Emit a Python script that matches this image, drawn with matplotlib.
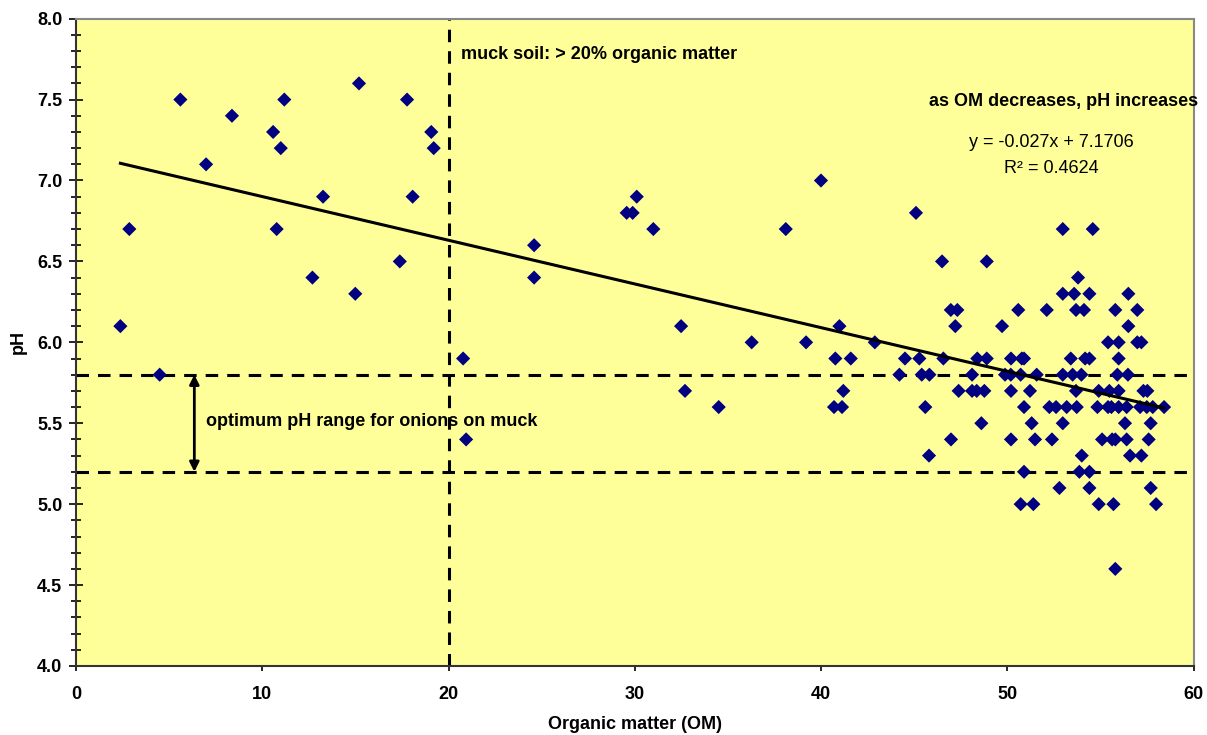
import matplotlib
matplotlib.use("Agg")
import matplotlib.pyplot as plt
from matplotlib.ticker import MultipleLocator, FormatStrFormatter
import numpy as np

plt.rcParams['font.family'] = ['Liberation Sans', 'DejaVu Sans']
plt.rcParams['lines.scale_dashes'] = False

# ---- data: organic matter (%) and pH ----
om = [5.60, 8.37, 11.18, 15.19, 17.77, 10.58, 10.99, 19.07, 19.20, 6.98,
      13.26, 18.07, 2.86, 10.77, 17.38, 12.69, 14.99, 2.38, 20.78, 4.49, 20.94,
      24.59, 24.59, 29.56, 29.88, 30.10, 30.99, 32.48, 32.69, 34.50, 36.27,
      38.10, 39.99, 39.19, 40.98, 40.76, 41.59, 41.19, 40.69, 41.12, 42.88, 45.09,
      52.97, 54.58,
      46.49, 48.89,
      53.79,
      52.97, 53.58, 54.40, 56.49,
      46.96, 47.31, 50.58, 52.11, 53.68, 54.11, 55.79, 56.97,
      47.20, 49.71, 56.49,
      55.40, 55.97, 56.97, 57.19,
      44.50, 45.27, 46.56, 48.38, 48.89, 50.19, 50.77, 50.89, 53.40, 54.17, 54.40, 55.97,
      44.20, 45.40, 45.81, 48.10, 49.87, 50.18, 50.71, 51.57, 52.97, 53.50, 53.97, 55.90, 56.47,
      47.38, 48.10, 48.35, 48.76, 50.19, 51.21, 53.68, 54.90, 55.47, 55.97, 57.30, 57.51,
      45.59, 50.89, 52.25, 52.61, 53.18, 53.72, 54.83, 55.40, 55.58, 55.97, 56.40, 57.12, 57.48, 57.80, 58.41,
      48.60, 51.30, 52.97, 56.31, 57.69,
      46.97, 50.19, 51.48, 52.39, 55.08, 55.62, 55.79, 56.40, 57.58,
      45.79, 53.99, 56.58, 57.19,
      50.89, 53.86, 54.40,
      52.79, 54.40, 57.69,
      50.71, 51.39, 54.90, 55.69, 57.98,
      55.79]
ph = [7.5, 7.4, 7.5, 7.6, 7.5, 7.3, 7.2, 7.3, 7.2, 7.1,
      6.9, 6.9, 6.7, 6.7, 6.5, 6.4, 6.3, 6.1, 5.9, 5.8, 5.4,
      6.6, 6.4, 6.8, 6.8, 6.9, 6.7, 6.1, 5.7, 5.6, 6.0,
      6.7, 7.0, 6.0, 6.1, 5.9, 5.9, 5.7, 5.6, 5.6, 6.0, 6.8,
      6.7, 6.7,
      6.5, 6.5,
      6.4,
      6.3, 6.3, 6.3, 6.3,
      6.2, 6.2, 6.2, 6.2, 6.2, 6.2, 6.2, 6.2,
      6.1, 6.1, 6.1,
      6.0, 6.0, 6.0, 6.0,
      5.9, 5.9, 5.9, 5.9, 5.9, 5.9, 5.9, 5.9, 5.9, 5.9, 5.9, 5.9,
      5.8, 5.8, 5.8, 5.8, 5.8, 5.8, 5.8, 5.8, 5.8, 5.8, 5.8, 5.8, 5.8,
      5.7, 5.7, 5.7, 5.7, 5.7, 5.7, 5.7, 5.7, 5.7, 5.7, 5.7, 5.7,
      5.6, 5.6, 5.6, 5.6, 5.6, 5.6, 5.6, 5.6, 5.6, 5.6, 5.6, 5.6, 5.6, 5.6, 5.6,
      5.5, 5.5, 5.5, 5.5, 5.5,
      5.4, 5.4, 5.4, 5.4, 5.4, 5.4, 5.4, 5.4, 5.4,
      5.3, 5.3, 5.3, 5.3,
      5.2, 5.2, 5.2,
      5.1, 5.1, 5.1,
      5.0, 5.0, 5.0, 5.0, 5.0,
      4.6]

trend_slope = -0.027
trend_intercept = 7.1706
r_squared = 0.4624
muck_threshold = 20
opt_ph_low, opt_ph_high = 5.2, 5.8

om = np.array(om)
ph = np.array(ph)

fig = plt.figure(figsize=(12.07, 7.35), dpi=100)
ax = fig.add_axes([0.063, 0.0939, 0.926, 0.8807])
ax.set_facecolor('#FFFF99')

dash = (9, 6.5)
ax.axhline(opt_ph_high, color='black', lw=2.2, dashes=dash, zorder=2)
ax.axhline(opt_ph_low, color='black', lw=2.2, dashes=dash, zorder=2)
ax.axvline(muck_threshold, color='black', lw=2.2, dashes=dash, zorder=2)

ax.scatter(om, ph, marker='D', s=52, color='#000080', edgecolors='none', zorder=3)

xt = np.array([om.min(), om.max()])
ax.plot(xt, trend_slope * xt + trend_intercept, color='black', lw=2.2, zorder=4)

ax.annotate('', xy=(6.35, opt_ph_low), xytext=(6.35, opt_ph_high),
            arrowprops=dict(arrowstyle='<|-|>', color='black', lw=2,
                            mutation_scale=14, shrinkA=0, shrinkB=0), zorder=5)

ax.text(7.0, 5.51, 'optimum pH range for onions on muck', fontsize=13,
        fontweight='bold', va='center', ha='left', zorder=5)
ax.text(20.65, 7.78, 'muck soil: > 20% organic matter', fontsize=13,
        fontweight='bold', va='center', ha='left', zorder=5)
ax.text(60.25, 7.49, 'as OM decreases, pH increases', fontsize=13,
        fontweight='bold', va='center', ha='right', zorder=5, clip_on=False)
ax.text(52.38, 7.235, 'y = %gx + %.4f' % (trend_slope, trend_intercept), fontsize=13,
        va='center', ha='center', zorder=5)
ax.text(52.38, 7.077, 'R² = %.4f' % r_squared, fontsize=13,
        va='center', ha='center', zorder=5)

ax.set_xlim(0, 60)
ax.set_ylim(4.0, 8.0)
ax.xaxis.set_major_locator(MultipleLocator(10))
ax.yaxis.set_major_locator(MultipleLocator(0.5))
ax.yaxis.set_minor_locator(MultipleLocator(0.1))
ax.yaxis.set_major_formatter(FormatStrFormatter('%.1f'))
ax.tick_params(axis='x', direction='out', length=3.6, width=1.2, colors='black',
               labelsize=13, pad=10.5)
ax.tick_params(axis='y', which='major', direction='inout', length=9.4, width=1.2,
               labelsize=13, pad=5.2)
ax.tick_params(axis='y', which='minor', direction='inout', length=6.5, width=1.2)
for lab in ax.get_xticklabels() + ax.get_yticklabels():
    lab.set_fontweight('bold')

for side in ['left', 'bottom']:
    ax.spines[side].set_color('#333333')
    ax.spines[side].set_linewidth(1.5)
for side in ['top', 'right']:
    ax.spines[side].set_color('#888888')
    ax.spines[side].set_linewidth(1.5)

ax.set_xlabel('Organic matter (OM)', fontsize=13, fontweight='bold', va='center')
ax.xaxis.set_label_coords(0.5, -0.091)
ax.set_ylabel('pH', fontsize=13, fontweight='bold', va='center')
ax.yaxis.set_label_coords(-0.052, 0.5)

fig.savefig('out.png', dpi=100, facecolor='white')
